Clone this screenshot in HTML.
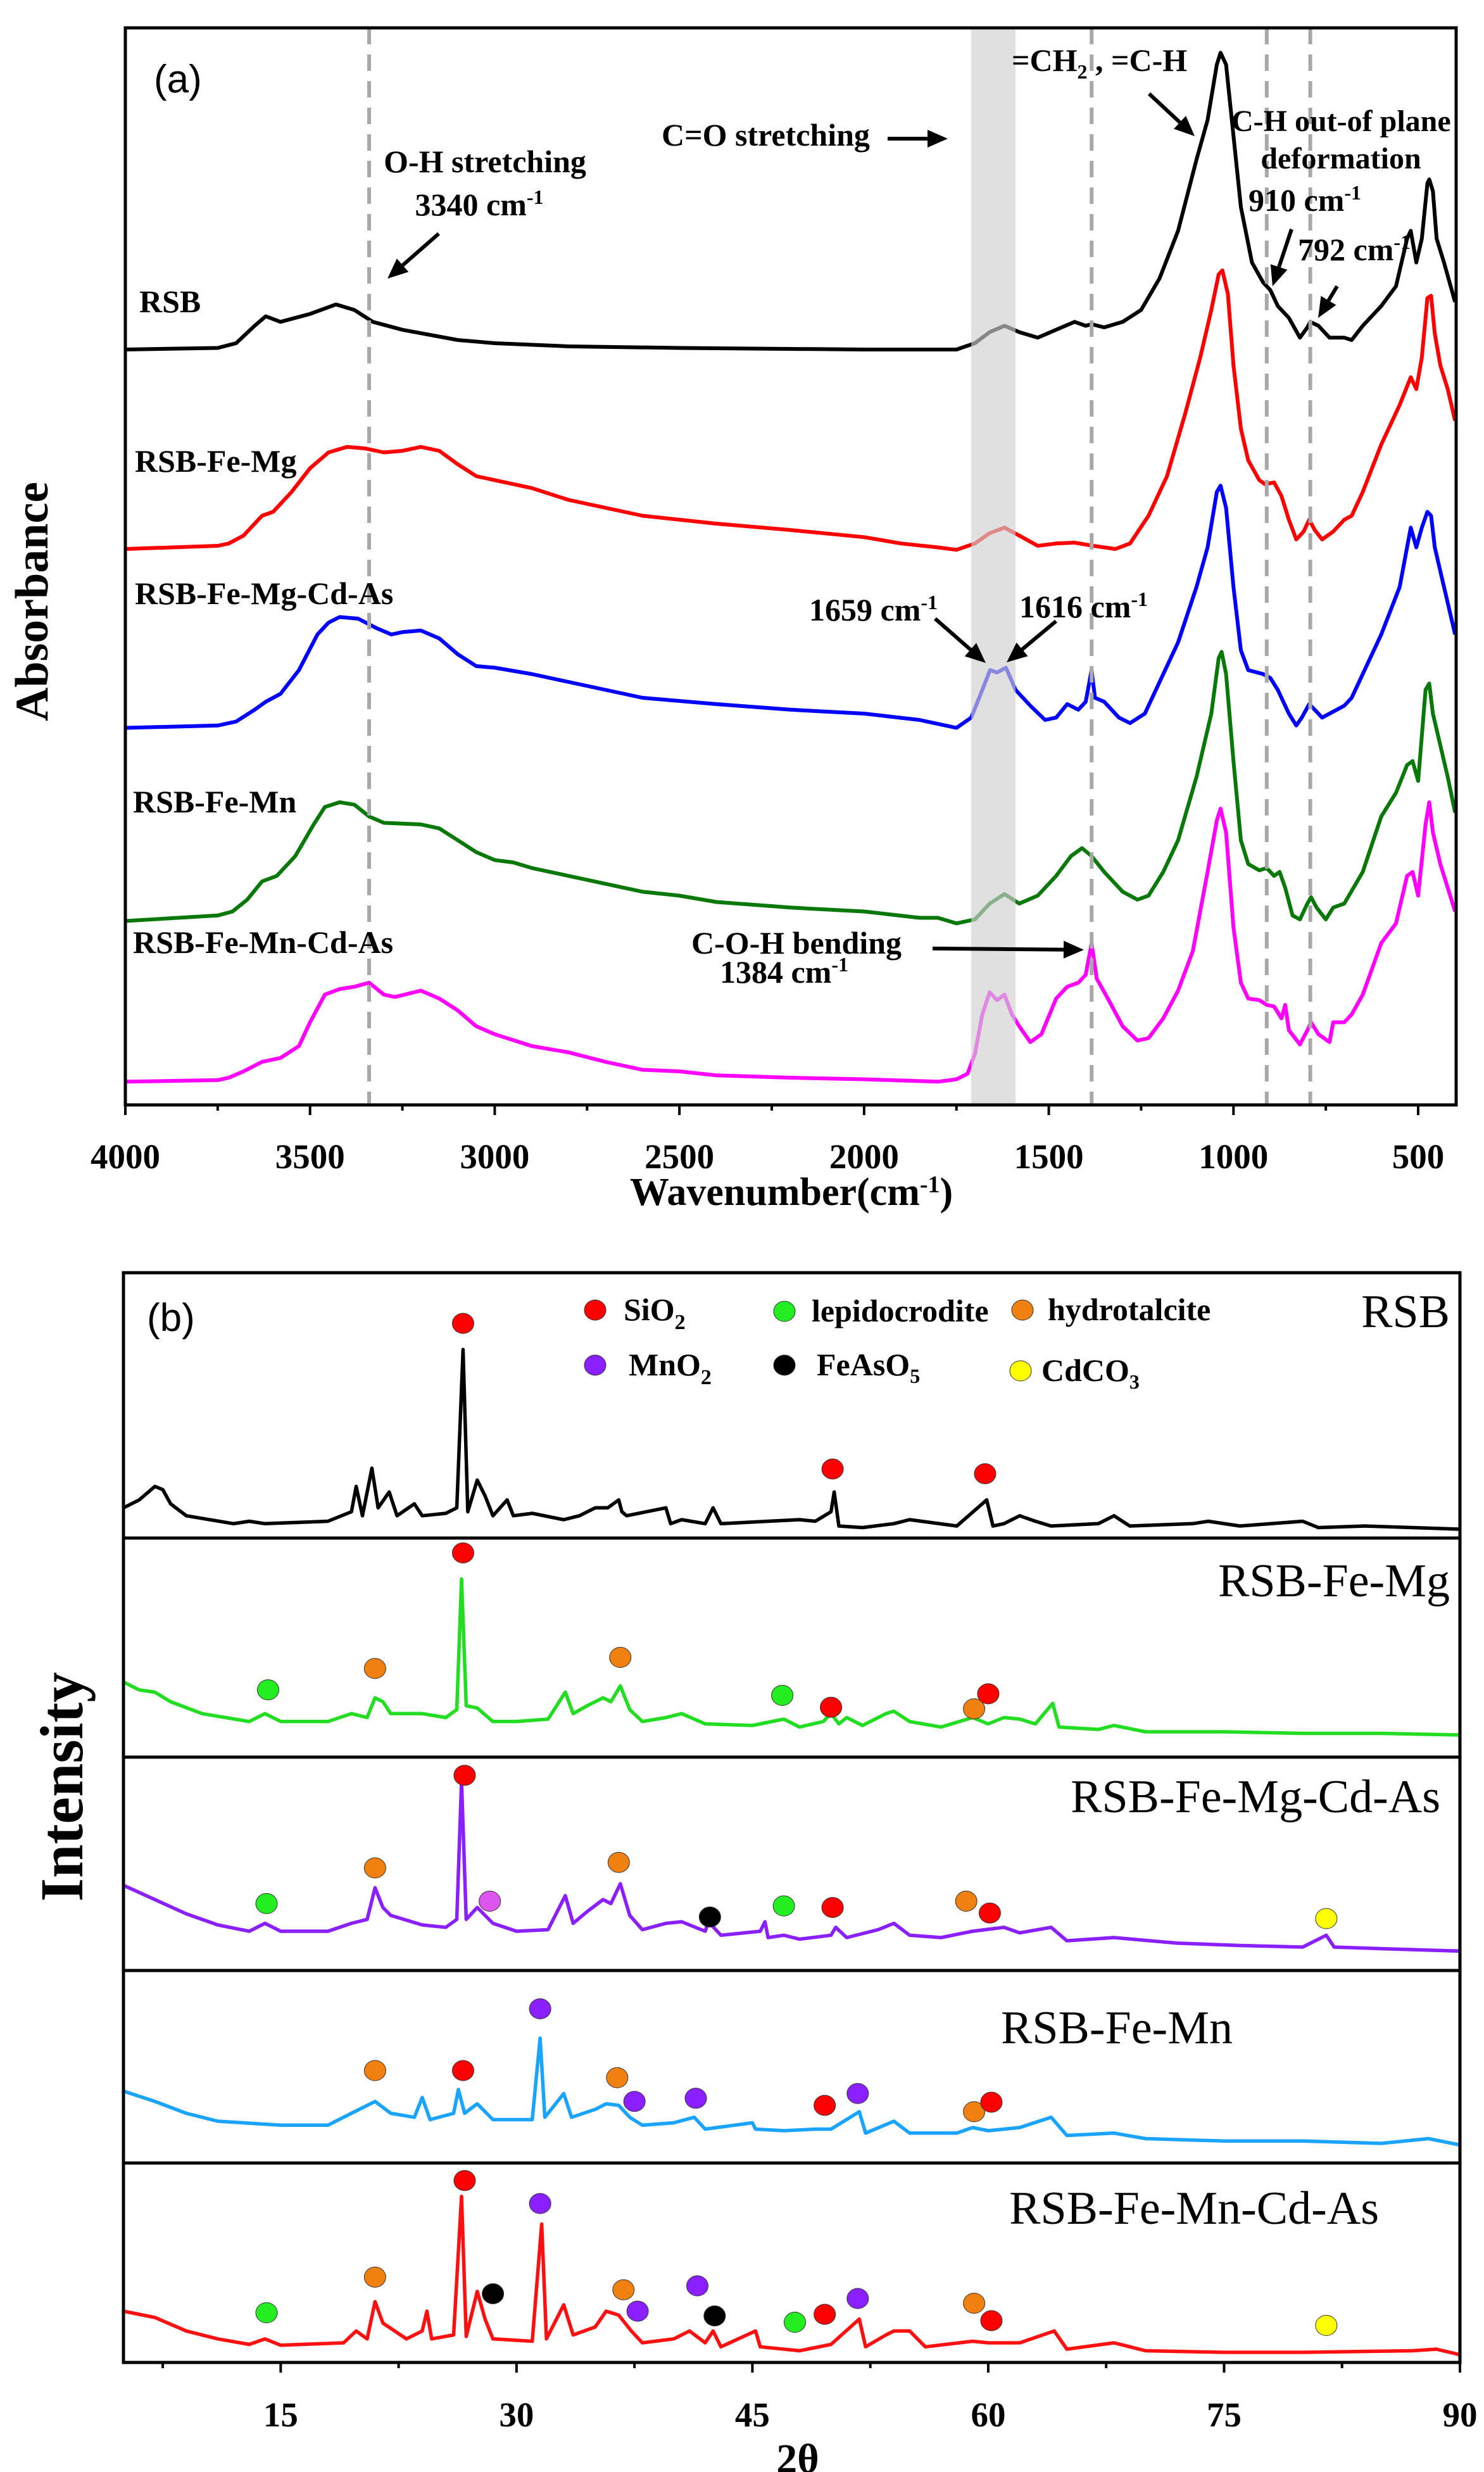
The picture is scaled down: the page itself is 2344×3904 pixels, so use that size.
<!DOCTYPE html>
<html><head><meta charset="utf-8"><style>
body{margin:0;background:#fff}
svg{display:block}
.b{font-family:"Liberation Serif",serif;font-weight:bold}
.s{font-family:"Liberation Sans",sans-serif}
.r{font-family:"Liberation Serif",serif}
</style></head><body>
<svg id="c" width="2344" height="3904" xmlns="http://www.w3.org/2000/svg"></svg>
<script>
// ---------- Panel (a) FTIR data: [wavenumber, plotted level (chart units, larger = lower)] ----------
const ftirNames = ["RSB","RSB-Fe-Mg","RSB-Fe-Mg-Cd-As","RSB-Fe-Mn","RSB-Fe-Mn-Cd-As"];
const ftirColors = ["#000000","#ff0000","#0000ff","#087808","#ff00ff"];
const ftirRSB = [[4000,440],[3750,438],[3700,432],[3650,410],[3620,398],[3580,405],[3500,395],[3430,383],[3380,390],[3330,405],[3250,415],[3100,428],[3000,432],[2800,436],[2500,438],[2000,440],[1750,440],[1700,432],[1660,418],[1620,410],[1580,418],[1530,425],[1480,415],[1430,405],[1400,410],[1384,408],[1350,412],[1300,405],[1250,390],[1200,350],[1150,290],[1100,200],[1070,150],[1045,80],[1035,65],[1020,80],[1000,170],[980,260],[950,330],[920,355],[900,365],[880,385],[850,400],[820,425],[800,412],[792,405],[770,410],[740,425],[700,425],[680,428],[650,410],[600,385],[560,360],[530,300],[520,290],[505,330],[490,300],[475,230],[470,225],[460,240],[450,300],[430,330],[400,380]];
const ftirFeMg = [[4000,692],[3750,688],[3720,685],[3680,675],[3630,650],[3600,645],[3550,620],[3500,590],[3450,570],[3400,563],[3350,565],[3300,570],[3250,568],[3200,563],[3150,568],[3100,585],[3050,600],[3000,605],[2900,615],[2800,630],[2700,640],[2600,650],[2400,660],[2200,668],[2000,677],[1900,685],[1800,690],[1750,693],[1700,685],[1660,672],[1620,665],[1580,675],[1530,688],[1480,685],[1430,684],[1380,688],[1320,692],[1280,685],[1230,650],[1180,600],[1130,520],[1090,450],[1060,390],[1040,345],[1030,340],[1015,370],[1000,460],[980,540],[960,580],[930,605],[915,610],[890,608],[870,625],[850,655],[830,680],[810,670],[795,655],[780,668],[760,680],[730,670],[700,655],[680,650],[650,620],[600,560],[550,510],[520,475],[505,490],[490,450],[475,375],[465,372],[455,420],[440,460],[420,490],[400,530]];
const ftirFeMgCdAs = [[4000,918],[3750,915],[3700,910],[3650,895],[3620,885],[3580,875],[3530,845],[3480,800],[3450,785],[3420,778],[3370,780],[3320,792],[3280,800],[3250,797],[3200,795],[3150,805],[3100,825],[3050,840],[3000,842],[2900,850],[2800,860],[2600,880],[2400,888],[2200,895],[2000,900],[1850,908],[1750,918],[1710,905],[1680,870],[1659,845],[1640,848],[1616,842],[1590,870],[1550,890],[1510,908],[1480,905],[1450,888],[1420,895],[1400,885],[1384,845],[1375,880],[1350,885],[1310,905],[1280,912],[1240,900],[1200,860],[1150,810],[1100,740],[1070,690],[1045,620],[1035,612],[1020,640],[1000,740],[980,820],[960,845],[920,850],[900,855],[880,870],[850,900],[830,915],[815,905],[795,888],[780,895],[760,905],[720,895],[700,890],[680,880],[650,850],[600,800],[550,740],[520,665],[505,690],[490,665],[475,645],[465,650],[455,690],[440,720],[420,760],[400,800]];
const ftirFeMn = [[4000,1162],[3750,1155],[3710,1150],[3670,1135],[3630,1112],[3590,1105],[3540,1080],[3490,1040],[3460,1018],[3420,1012],[3380,1015],[3340,1030],[3300,1038],[3200,1040],[3150,1045],[3100,1060],[3050,1075],[3000,1085],[2950,1088],[2900,1095],[2800,1105],[2700,1115],[2600,1125],[2500,1130],[2400,1138],[2200,1145],[2000,1150],[1850,1158],[1800,1158],[1750,1165],[1700,1160],[1660,1140],[1620,1128],[1580,1140],[1530,1130],[1480,1105],[1440,1080],[1410,1070],[1384,1080],[1350,1100],[1300,1125],[1260,1135],[1230,1130],[1190,1100],[1150,1060],[1100,980],[1060,900],[1040,830],[1032,822],[1020,850],[1000,960],[980,1060],[960,1090],[930,1098],[910,1095],[890,1105],[875,1100],[860,1120],[840,1155],[820,1160],[800,1140],[790,1132],[775,1145],[750,1160],[730,1145],[700,1140],[650,1100],[600,1030],[560,1000],[530,965],[515,960],[500,985],[480,870],[470,862],[460,900],[440,940],[420,980],[400,1025]];
const ftirFeMnCdAs = [[4000,1365],[3750,1363],[3720,1360],[3680,1352],[3630,1340],[3580,1335],[3530,1320],[3500,1290],[3460,1255],[3420,1248],[3380,1245],[3340,1240],[3300,1255],[3270,1258],[3200,1250],[3150,1260],[3100,1275],[3050,1295],[3000,1305],[2900,1320],[2800,1328],[2700,1340],[2600,1350],[2500,1352],[2400,1357],[2200,1360],[2000,1362],[1800,1365],[1750,1362],[1720,1355],[1700,1330],[1680,1280],[1660,1252],[1640,1262],[1620,1255],[1600,1280],[1580,1295],[1550,1315],[1520,1305],[1480,1260],[1450,1245],[1420,1240],[1400,1230],[1384,1190],[1370,1235],[1340,1260],[1300,1295],[1260,1313],[1230,1310],[1190,1285],[1150,1250],[1110,1200],[1070,1100],[1045,1035],[1035,1020],[1020,1050],[1000,1170],[980,1240],[960,1260],[930,1262],[910,1268],[890,1270],[870,1285],[860,1268],[850,1300],[820,1318],[800,1300],[790,1290],[770,1305],[740,1315],[730,1290],[700,1290],[680,1280],[650,1255],[600,1190],[560,1165],[530,1105],[515,1100],[500,1130],[480,1040],[470,1012],[460,1050],[440,1090],[420,1120],[400,1150]];
const ftirTicks = [4000,3500,3000,2500,2000,1500,1000,500];
const ftirDashed = [3340,1384,910,792];
const ftirBand = [1710,1590];

// ---------- Panel (b) XRD data: [2theta, plotted level (chart units, larger = lower)] ----------
const xrdNames = ["RSB","RSB-Fe-Mg","RSB-Fe-Mg-Cd-As","RSB-Fe-Mn","RSB-Fe-Mn-Cd-As"];
const xrdColors = ["#000000","#22dd22","#8a1fff","#1aa3ff","#ff1010"];
const xrdRSB = [[5,345],[6,335],[7,318],[7.5,322],[8,340],[9,355],[12,365],[13,362],[14,365],[18,362],[19.5,350],[19.8,318],[20.2,355],[20.8,295],[21.2,345],[21.9,325],[22.4,355],[23.5,340],[24,355],[25.5,352],[26.2,345],[26.6,145],[26.9,350],[27.5,310],[28,330],[28.5,355],[29.4,335],[29.8,355],[31,352],[33,360],[34,355],[35,345],[35.8,345],[36.5,335],[36.7,350],[37,355],[39.5,345],[39.8,365],[40.5,360],[42,365],[42.5,345],[43,365],[46,362],[48,360],[49,362],[50,350],[50.2,325],[50.5,368],[52,370],[54,365],[55,360],[58,368],[59.9,335],[60.3,368],[61,365],[62,355],[63,362],[64,368],[67,365],[68,355],[69,368],[73,365],[74,362],[76,368],[80,362],[81,370],[84,368],[90,372]];
const xrdFeMg = [[5,565],[6,575],[7,578],[8,590],[10,605],[13,615],[14,605],[15,615],[18,615],[19.5,605],[20.5,610],[21,585],[21.5,590],[22,605],[24,605],[25.5,610],[26.2,600],[26.5,435],[26.8,595],[27.5,598],[28.5,615],[30,615],[32,612],[33.1,578],[33.6,605],[34.5,595],[35.5,585],[36,590],[36.6,570],[37.2,600],[38,615],[39.5,610],[40.5,605],[42,618],[45,620],[47,612],[48,622],[49.5,615],[50,605],[50.5,618],[51,610],[52,620],[53.5,605],[54,602],[55,615],[57,622],[59,610],[60,618],[61,610],[62,612],[63,618],[64.1,592],[64.5,622],[67,625],[68,620],[70,628],[75,628],[80,630],[85,630],[90,632]];
const xrdFeMgCdAs = [[5,822],[7,840],[9,858],[11,872],[13,880],[14,870],[15,880],[18,880],[19.5,870],[20.5,865],[21,825],[21.5,850],[22,860],[24,872],[25.5,875],[26.2,865],[26.5,690],[26.8,865],[27.5,850],[28.5,870],[30,880],[32,878],[33.1,835],[33.6,870],[34.5,855],[35.5,840],[36,845],[36.6,820],[37.2,860],[38,878],[39.5,870],[40.5,868],[42,880],[42.2,868],[43,885],[45.5,880],[45.8,868],[46,888],[47,885],[48,890],[50,885],[50.3,875],[51,888],[53,878],[54,870],[55,885],[57,888],[59,880],[61,875],[62,882],[64,875],[65,892],[68,888],[72,895],[76,898],[80,900],[81.5,885],[82,900],[85,902],[90,905]];
const xrdFeMn = [[5,1082],[7,1095],[9,1110],[11,1120],[15,1125],[18,1125],[19.5,1110],[21,1095],[22,1110],[23.5,1115],[24,1090],[24.5,1118],[26,1110],[26.3,1080],[26.7,1110],[27.5,1098],[28.5,1118],[31,1118],[31.5,1015],[31.8,1115],[33,1085],[33.5,1115],[35,1105],[35.7,1098],[36.5,1100],[37.2,1115],[38,1125],[40,1122],[41.3,1115],[42,1130],[45,1122],[45.2,1130],[47,1132],[49,1130],[50,1130],[51.8,1108],[52.2,1135],[54,1120],[55,1135],[58,1135],[59,1128],[60,1132],[62,1128],[64,1115],[65,1138],[68,1135],[70,1142],[75,1145],[80,1145],[85,1148],[88,1142],[90,1150]];
const xrdFeMnCdAs = [[5,1360],[7,1368],[9,1385],[11,1395],[13,1402],[14,1395],[15,1403],[19,1400],[19.8,1385],[20.5,1395],[21,1348],[21.5,1375],[23,1395],[24,1385],[24.3,1360],[24.6,1395],[26,1390],[26.5,1215],[26.8,1392],[27.5,1335],[28,1370],[28.5,1395],[31,1398],[31.6,1250],[31.9,1395],[33,1352],[33.6,1390],[35,1380],[35.7,1360],[36.5,1365],[37.3,1385],[38,1400],[40,1395],[41,1385],[42,1400],[42.5,1385],[43,1405],[45.2,1385],[45.5,1405],[48,1410],[50,1402],[51.8,1370],[52.2,1405],[53.5,1390],[54,1385],[55,1385],[56,1405],[59,1398],[60,1400],[62,1400],[64.2,1385],[65,1408],[68,1400],[70,1410],[75,1412],[80,1412],[87,1410],[88.5,1408],[90,1415]];
const xrdTicks = [15,30,45,60,75,90];
// phase markers: [2theta, level, phase]
const markRSB = [[26.6,112,"SiO2"],[50.1,296,"SiO2"],[59.8,302,"SiO2"]];
const markFeMg = [[26.6,402,"SiO2"],[14.2,575,"lep"],[21.0,548,"hyd"],[36.6,534,"hyd"],[46.9,582,"lep"],[50.0,597,"SiO2"],[59.1,599,"hyd"],[60.0,580,"SiO2"]];
const markFeMgCdAs = [[26.7,683,"SiO2"],[14.1,845,"lep"],[21.0,800,"hyd"],[28.3,842,"pink"],[36.5,793,"hyd"],[42.3,862,"FeAsO5"],[47.0,848,"lep"],[50.1,850,"SiO2"],[58.6,842,"hyd"],[60.1,857,"SiO2"],[81.5,864,"CdCO3"]];
const markFeMn = [[31.5,978,"MnO2"],[21.0,1056,"hyd"],[26.6,1056,"SiO2"],[36.4,1065,"hyd"],[37.5,1095,"MnO2"],[41.4,1091,"MnO2"],[49.6,1100,"SiO2"],[51.7,1085,"MnO2"],[59.1,1108,"hyd"],[60.2,1096,"SiO2"]];
const markFeMnCdAs = [[26.7,1195,"SiO2"],[31.5,1224,"MnO2"],[21.0,1317,"hyd"],[28.5,1338,"FeAsO5"],[36.8,1333,"hyd"],[41.5,1328,"MnO2"],[37.7,1360,"MnO2"],[42.6,1366,"FeAsO5"],[14.1,1362,"lep"],[47.7,1374,"lep"],[49.6,1364,"SiO2"],[51.7,1344,"MnO2"],[59.1,1350,"hyd"],[60.2,1372,"SiO2"],[81.5,1378,"CdCO3"]];
const phaseColors = {SiO2:"#ff0000",lep:"#22ee22",hyd:"#f08010",MnO2:"#8a1fff",FeAsO5:"#000000",CdCO3:"#ffff00",pink:"#dd55ee"};

const NS="http://www.w3.org/2000/svg";
const svg=document.getElementById('c');
const FAM={b:'"Liberation Serif", serif',r:'"Liberation Serif", serif',s:'"Liberation Sans", sans-serif'};
function mk(tag,attrs,parent,text){const e=document.createElementNS(NS,tag);for(const k in attrs)e.setAttribute(k,attrs[k]);if(attrs.class){e.setAttribute('font-family',FAM[attrs.class]);if(attrs.class==='b')e.setAttribute('font-weight','bold');}if(text!==undefined)e.textContent=text;(parent||svg).appendChild(e);return e;}

const A={l:198,r:2300,t:44,b:1745};
const xA=w=>A.l+(4000-w)*(2240-198)/3500;
const yA=v=>v*1.25+2;
const B={l:195,r:2306,t:2010,b:3731};
const xB=t=>B.l+(t-5)*(B.r-B.l)/85;
const yB=v=>v*1.25+1950;

// ===== Panel (a) =====
const gA=mk('g',{});


const ftirSeries=[ftirRSB,ftirFeMg,ftirFeMgCdAs,ftirFeMn,ftirFeMnCdAs];
ftirSeries.forEach((s,i)=>{
  const p=mk('path',{d:s.map((d,j)=>(j?'L':'M')+xA(d[0]).toFixed(1)+' '+yA(d[1]).toFixed(1)).join(' '),fill:'none',stroke:ftirColors[i],'stroke-width':6,'stroke-linejoin':'round'},gA);
  
  
});
const band=mk('rect',{x:xA(ftirBand[0]),y:A.t,width:xA(ftirBand[1])-xA(ftirBand[0]),height:A.b-A.t,fill:'#d0d0d0',opacity:0.65},gA);


ftirDashed.forEach(w=>{
  const l=mk('line',{x1:xA(w),x2:xA(w),y1:A.t,y2:A.b,stroke:'#a8a8a8','stroke-width':6,'stroke-dasharray':'26 16'},gA);
  
  
});
const fA=mk('rect',{x:A.l,y:A.t,width:A.r-A.l,height:A.b-A.t,fill:'none',stroke:'#000','stroke-width':5},gA);


for(let w=4000;w>=400;w-=250){
  const maj=w%500===0;
  const t=mk('line',{x1:xA(w),x2:xA(w),y1:A.b,y2:A.b+(maj?16:9),stroke:'#000','stroke-width':4},gA);
  
  
}
ftirTicks.forEach(w=>{
  const t=mk('text',{x:xA(w),y:1845,'text-anchor':'middle',class:'b','font-size':55},gA,String(w));
  
  
});
function txt(x,y,size,cls,html,anchor,name){const t=mk('text',{x:x,y:y,'font-size':size,class:cls,'text-anchor':anchor||'start'},svg);t.innerHTML=html;return t;}
function arrow(x1,y1,x2,y2,name){
  const ang=Math.atan2(y2-y1,x2-x1),L=32,W=14;
  const bx=x2-L*Math.cos(ang),by=y2-L*Math.sin(ang);
  const g=mk('g',{});
  
  
  mk('line',{x1:x1,y1:y1,x2:bx,y2:by,stroke:'#000','stroke-width':6},g);
  mk('polygon',{points:`${x2},${y2} ${bx+W*Math.sin(ang)},${by-W*Math.cos(ang)} ${bx-W*Math.sin(ang)},${by+W*Math.cos(ang)}`,fill:'#000'},g);
}
const sup=n=>`<tspan dy="-18" font-size="32">${n}</tspan>`;
txt(243,146,62,'s','(a)','start','panel-a-label');
txt(766,272,50,'b','O-H stretching','middle','oh-stretching-label');
txt(757,340,50,'b','3340 cm'+sup('-1'),'middle','oh-wavenumber-label');
arrow(693,369,612,440,'oh-arrow');
txt(1045,230,50,'b','C=O stretching','start','co-stretching-label');
arrow(1402,219,1497,219,'co-arrow');
txt(1598,112,50,'b','=CH<tspan dy="12" font-size="32">2</tspan><tspan dy="-12"> , =C-H</tspan>','start','ch2-label');
arrow(1815,148,1887,215,'ch2-arrow');
txt(1945,207,48,'b','C-H out-of plane','start','ch-oop-label');
txt(2118,266,48,'b','deformation','middle','deformation-label');
txt(1972,333,50,'b','910 cm'+sup('-1'),'start','910-label');
arrow(2040,362,2010,452,'910-arrow');
txt(2050,411,50,'b','792 cm'+sup('-1'),'start','792-label');
arrow(2112,452,2082,502,'792-arrow');
txt(1278,980,50,'b','1659 cm'+sup('-1'),'start','1659-label');
txt(1610,975,50,'b','1616 cm'+sup('-1'),'start','1616-label');
arrow(1477,977,1557,1047,'1659-arrow');
arrow(1668,981,1590,1046,'1616-arrow');
txt(1092,1506,50,'b','C-O-H bending','start','coh-bending-label');
txt(1137,1552,50,'b','1384 cm'+sup('-1'),'start','1384-label');
arrow(1473,1498,1712,1500,'coh-arrow');
const serLab=[[220,493],[213,745],[213,954],[210,1283],[210,1505]];
ftirNames.forEach((n,i)=>txt(serLab[i][0],serLab[i][1],50,'b',n,'start','series-label-'+n.toLowerCase()));
txt(1250,1903,62,'b','Wavenumber(cm<tspan dy="-20" font-size="38">-1</tspan><tspan dy="20">)</tspan>','middle','x-axis-title-a');
const yt=txt(0,0,74,'b','Absorbance','middle','y-axis-title-a');
yt.setAttribute('transform','translate(75,950) rotate(-90)');

// ===== Panel (b) =====
const gB=mk('g',{});


const xrdSeries=[xrdRSB,xrdFeMg,xrdFeMgCdAs,xrdFeMn,xrdFeMnCdAs];
xrdSeries.forEach((s,i)=>{
  const p=mk('path',{d:s.map((d,j)=>(j?'L':'M')+xB(d[0]).toFixed(1)+' '+yB(d[1]).toFixed(1)).join(' '),fill:'none',stroke:xrdColors[i],'stroke-width':5.5,'stroke-linejoin':'round'},gB);
  
  
});
const marks=[markRSB,markFeMg,markFeMgCdAs,markFeMn,markFeMnCdAs];
marks.forEach((ms,i)=>ms.forEach(m=>{
  const c=mk('ellipse',{cx:xB(m[0]),cy:yB(m[1]),rx:17,ry:16,fill:phaseColors[m[2]],stroke:'#333','stroke-width':1},gB);
  
  
}));
const seps=[2429,2775,3112,3416];
seps.forEach(y=>{
  const l=mk('line',{x1:B.l,x2:B.r,y1:y,y2:y,stroke:'#000','stroke-width':5},gB);
  
  
});
const fB=mk('rect',{x:B.l,y:B.t,width:B.r-B.l,height:B.b-B.t,fill:'none',stroke:'#000','stroke-width':5},gB);


for(let t=7.5;t<=90;t+=7.5){
  const maj=t%15===0;
  const l=mk('line',{x1:xB(t),x2:xB(t),y1:B.b,y2:B.b+(maj?16:9),stroke:'#000','stroke-width':4},gB);
  
  
}
xrdTicks.forEach(t=>{
  const e=mk('text',{x:xB(t),y:3832,'text-anchor':'middle',class:'b','font-size':55},gB,String(t));
  
  
});
txt(232,2102,62,'s','(b)','start','panel-b-label');
const leg=[[940,2069,'SiO2',985,'SiO<tspan dy="14" font-size="34">2</tspan>'],[1239,2071,'lep',1282,'lepidocrodite'],[1615,2069,'hyd',1655,'hydrotalcite'],[940,2156,'MnO2',993,'MnO<tspan dy="14" font-size="34">2</tspan>'],[1239,2156,'FeAsO5',1290,'FeAsO<tspan dy="12" font-size="32">5</tspan>'],[1612,2165,'CdCO3',1645,'CdCO<tspan dy="12" font-size="32">3</tspan>']];
leg.forEach(l=>{
  const c=mk('ellipse',{cx:l[0],cy:l[1],rx:17,ry:16,fill:phaseColors[l[2]],stroke:'#333','stroke-width':1},svg);
  
  
  txt(l[3],l[1]+16,50,'b',l[4],'start','legend-entry-'+l[2].toLowerCase());
});
const subLab=[[2290,2096,'RSB'],[2290,2521,'RSB-Fe-Mg'],[2275,2862,'RSB-Fe-Mg-Cd-As'],[1947,3227,'RSB-Fe-Mn'],[2178,3512,'RSB-Fe-Mn-Cd-As']];
subLab.forEach(s=>txt(s[0],s[1],74,'r',s[2],'end','xrd-sample-label-'+s[2].toLowerCase()));
txt(1260,3905,66,'b','2θ','middle','x-axis-title-b');
const yt2=txt(0,0,96,'b','Intensity','middle','y-axis-title-b');
yt2.setAttribute('transform','translate(130,2822) rotate(-90)');
</script>
</body></html>
